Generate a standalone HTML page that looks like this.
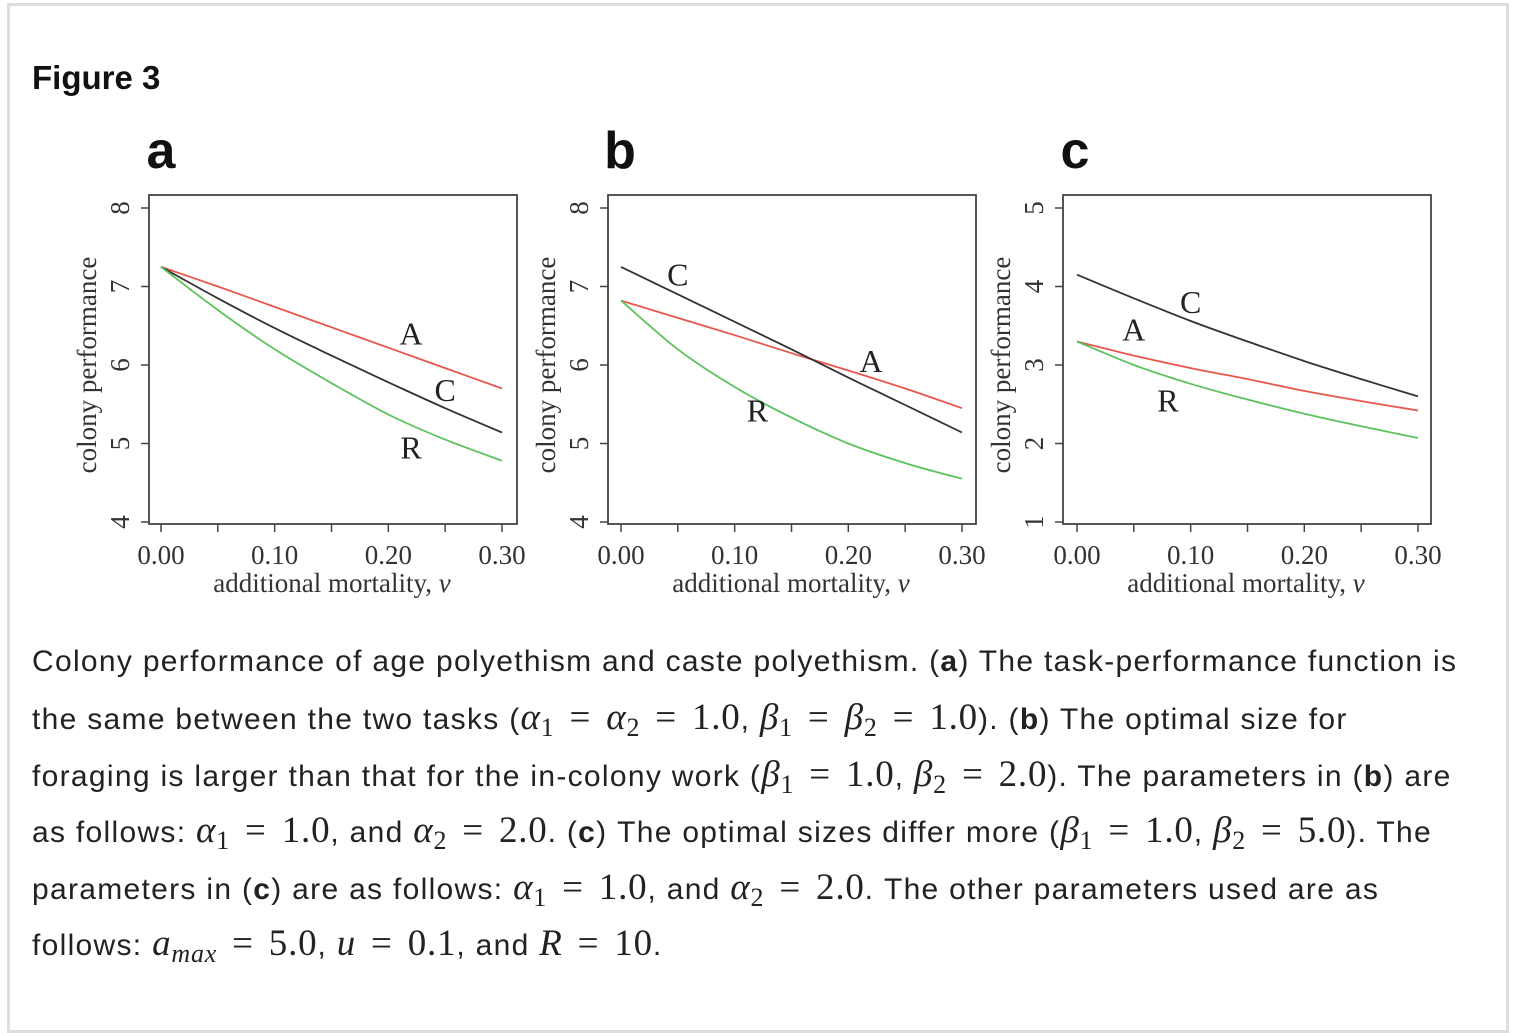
<!DOCTYPE html>
<html><head><meta charset="utf-8"><style>
body{margin:0;background:#fff;width:1516px;height:1018px;overflow:hidden;position:relative;font-family:"Liberation Sans",sans-serif}
#frame{position:absolute;left:7px;top:3px;width:1502px;height:1030px;border:3px solid #ddd;box-sizing:border-box}
#title{position:absolute;left:32px;top:59px;font-size:33px;font-weight:bold;color:#111}
#cap{position:absolute;left:32px;top:634px;width:1480px;font-size:30px;letter-spacing:1.3px;color:#222;white-space:nowrap}
#cap div{height:56.4px;line-height:56.4px;overflow:visible}
.m{font-family:"Liberation Serif",serif;font-size:37px;letter-spacing:0.8px}
.i{font-style:italic}
.e{margin:0 15px}
sub{font-size:26px;line-height:0;vertical-align:-7px}
svg{position:absolute;left:0;top:0}
</style></head><body>
<div id="frame"></div>
<div id="title">Figure 3</div>
<svg id="chart" width="1516" height="620"></svg>
<div id="cap">
<div>Colony performance of age polyethism and caste polyethism. (<b>a</b>) The task-performance function is</div>
<div>the same between the two tasks (<span class="m"><span class="i">α</span><sub>1</sub><span class="e">=</span><span class="i">α</span><sub>2</sub><span class="e">=</span>1.0</span>, <span class="m"><span class="i">β</span><sub>1</sub><span class="e">=</span><span class="i">β</span><sub>2</sub><span class="e">=</span>1.0</span>). (<b>b</b>) The optimal size for</div>
<div>foraging is larger than that for the in-colony work (<span class="m"><span class="i">β</span><sub>1</sub><span class="e">=</span>1.0</span>, <span class="m"><span class="i">β</span><sub>2</sub><span class="e">=</span>2.0</span>). The parameters in (<b>b</b>) are</div>
<div>as follows: <span class="m"><span class="i">α</span><sub>1</sub><span class="e">=</span>1.0</span>, and <span class="m"><span class="i">α</span><sub>2</sub><span class="e">=</span>2.0</span>. (<b>c</b>) The optimal sizes differ more (<span class="m"><span class="i">β</span><sub>1</sub><span class="e">=</span>1.0</span>, <span class="m"><span class="i">β</span><sub>2</sub><span class="e">=</span>5.0</span>). The</div>
<div>parameters in (<b>c</b>) are as follows: <span class="m"><span class="i">α</span><sub>1</sub><span class="e">=</span>1.0</span>, and <span class="m"><span class="i">α</span><sub>2</sub><span class="e">=</span>2.0</span>. The other parameters used are as</div>
<div>follows: <span class="m"><span class="i">a<sub>max</sub></span><span class="e">=</span>5.0</span>, <span class="m"><span class="i">u</span><span class="e">=</span>0.1</span>, and <span class="m"><span class="i">R</span><span class="e">=</span>10</span>.</div>
</div>
<script>
const xVals=[0,0.05,0.10,0.15,0.20,0.25,0.30];
const xTicks=[0,0.05,0.10,0.15,0.20,0.25,0.30];
const xTickLabels=["0.00","","0.10","","0.20","","0.30"];
const aA=[7.25,7.0,6.74,6.48,6.22,5.96,5.7];
const aC=[7.25,6.85,6.47,6.12,5.78,5.45,5.14];
const aR=[7.25,6.7,6.2,5.77,5.37,5.05,4.78];
const bA=[6.82,6.6,6.38,6.15,5.93,5.7,5.45];
const bC=[7.25,6.9,6.55,6.2,5.84,5.49,5.14];
const bR=[6.82,6.2,5.72,5.33,5.0,4.75,4.55];
const cA=[3.3,3.12,2.96,2.82,2.67,2.54,2.42];
const cC=[4.15,3.85,3.56,3.3,3.05,2.82,2.6];
const cR=[3.3,3.0,2.76,2.56,2.38,2.22,2.07];
const yTicksAB=[4,5,6,7,8];
const yTicksC=[1,2,3,4,5];
const panels=[
 {id:"a",left:149,x0:161,ymin:4,ymax:8,ticks:yTicksAB,A:aA,C:aC,R:aR,lab:{A:[0.22,6.4],C:[0.25,5.68],R:[0.22,4.95]}},
 {id:"b",left:608,x0:621,ymin:4,ymax:8,ticks:yTicksAB,A:bA,C:bC,R:bR,lab:{A:[0.22,6.05],C:[0.05,7.15],R:[0.12,5.42]}},
 {id:"c",left:1063,x0:1077,ymin:1,ymax:5,ticks:yTicksC,A:cA,C:cC,R:cR,lab:{A:[0.05,3.45],C:[0.10,3.8],R:[0.08,2.55]}}
];
const colors={A:"#e8574e",C:"#333",R:"#5cc25c"};
const NS="http://www.w3.org/2000/svg";
const svg=document.getElementById('chart');
function mk(t,a,p){const e=document.createElementNS(NS,t);for(const k in a)e.setAttribute(k,a[k]);(p||svg).appendChild(e);return e;}
function smooth(pts){let d='M'+pts[0][0].toFixed(1)+','+pts[0][1].toFixed(1);
 for(let i=0;i<pts.length-1;i++){const p0=pts[i-1]||pts[i],p1=pts[i],p2=pts[i+1],p3=pts[i+2]||p2;
  const c1=[p1[0]+(p2[0]-p0[0])/6,p1[1]+(p2[1]-p0[1])/6],c2=[p2[0]-(p3[0]-p1[0])/6,p2[1]-(p3[1]-p1[1])/6];
  d+=` C${c1[0].toFixed(1)},${c1[1].toFixed(1)} ${c2[0].toFixed(1)},${c2[1].toFixed(1)} ${p2[0].toFixed(1)},${p2[1].toFixed(1)}`;}
 return d;}
panels.forEach(p=>{
 const g=mk('g',{});
 
 
 const xs=v=>p.x0+v*(341/0.3);
 const ys=v=>522-(v-p.ymin)*(314/(p.ymax-p.ymin));
 const box=mk('rect',{x:p.left,y:195,width:368,height:329,fill:'none',stroke:'#444','stroke-width':1.8},g);
 
 
 const pl=mk('text',{x:p.left+12,y:168,'font-family':'Liberation Sans, sans-serif','font-weight':'bold','font-size':52,'text-anchor':'middle',fill:'#111'},g);
 pl.textContent=p.id;
 
 
 xTicks.forEach((t,i)=>{
  mk('line',{x1:xs(t),x2:xs(t),y1:524,y2:532,stroke:'#444','stroke-width':1.5},g);
  if(xTickLabels[i]){const tx=mk('text',{x:xs(t),y:564,'font-family':'Liberation Serif, serif','font-size':27,'text-anchor':'middle',fill:'#333'},g);tx.textContent=xTickLabels[i];
  
  }
 });
 p.ticks.forEach(t=>{
  mk('line',{x1:p.left,x2:p.left-8,y1:ys(t),y2:ys(t),stroke:'#444','stroke-width':1.5},g);
  const tx=mk('text',{x:0,y:0,transform:`translate(${p.left-20},${ys(t)}) rotate(-90)`,'font-family':'Liberation Serif, serif','font-size':27,'text-anchor':'middle',fill:'#333'},g);
  tx.textContent=t;
  
  
 });
 const xt=mk('text',{x:p.left+183,y:592,'font-family':'Liberation Serif, serif','font-size':27,'text-anchor':'middle',fill:'#333'},g);
 xt.innerHTML='additional mortality, <tspan font-style="italic">v</tspan>';
 
 
 const yt=mk('text',{x:0,y:0,transform:`translate(${p.left-53},365) rotate(-90)`,'font-family':'Liberation Serif, serif','font-size':27,'text-anchor':'middle',fill:'#333'},g);
 yt.textContent='colony performance';
 
 
 ['A','C','R'].forEach(s=>{
  const pts=p[s].map((v,i)=>[xs(xVals[i]),ys(v)]);
  const path=mk('path',{d:smooth(pts),fill:'none',stroke:colors[s],'stroke-width':1.8},g);
  
  
  const L=p.lab[s];
  const lt=mk('text',{x:xs(L[0]),y:ys(L[1])+11,'font-family':'Liberation Serif, serif','font-size':32,'text-anchor':'middle',fill:'#222'},g);
  lt.textContent=s;
  
  
 });
});
</script>
</body></html>
